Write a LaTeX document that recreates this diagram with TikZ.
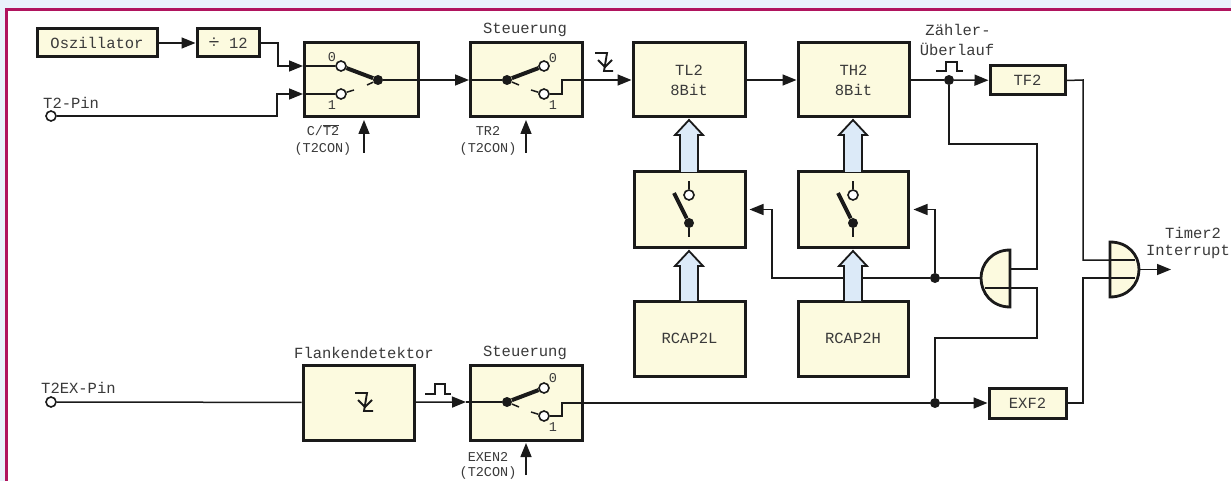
\documentclass[tikz,border=0pt]{standalone}
\usepackage{fontspec}
\setmainfont{Liberation Mono}
\usetikzlibrary{arrows.meta}
\definecolor{cream}{HTML}{FCFADF}
\definecolor{pale}{HTML}{DCEAF8}
\definecolor{page}{HTML}{E9F2FB}
\definecolor{rim}{HTML}{B0145E}
\definecolor{ink}{HTML}{1A1A1A}
\definecolor{txt}{HTML}{3A3A3A}
\newcommand{\blockup}[3]{% x, tip y, base y
  \draw[blockarrow] (#1-9,#3) -- (#1-9,#2+15) -- (#1-14,#2+15) -- (#1,#2) -- (#1+14,#2+15) -- (#1+9,#2+15) -- (#1+9,#3);
}
\tikzset{
  x=1pt,y=-1pt,
  blk/.style={draw=ink,fill=cream,line width=3pt,inner sep=0pt,font=\fontsize{15.5}{20}\selectfont,text=txt,align=center},
  lbl/.style={inner sep=0pt,font=\fontsize{15.5}{19}\selectfont,text=txt,align=center},
  small/.style={inner sep=0pt,font=\fontsize{13.5}{15}\selectfont,text=txt},
  wire/.style={draw=ink,line width=1.5pt},
  flow/.style={wire,-{Triangle[length=14pt,width=11pt]}},
  lever/.style={draw=ink,line width=4pt},
  contact/.style={circle,draw=ink,fill=white,line width=1.6pt,minimum size=10pt,inner sep=0pt},
  pole/.style={circle,fill=ink,minimum size=10pt,inner sep=0pt},
  gate/.style={draw=ink,fill=cream,line width=2.8pt},
  blockarrow/.style={draw=ink,fill=pale,line width=1.8pt},
  edge mark/.style={draw=ink,line width=1.9pt},
}
\begin{document}
\begin{tikzpicture}
\useasboundingbox (0,0) rectangle (1231,481);
\fill[page] (0,0) rectangle (1231,481);
\fill[white] (6,10) rectangle (1231,481);
\draw[rim,line width=3pt] (6,481) -- (6,10) -- (1231,10);

% blocks
\node[blk,minimum width=120pt,minimum height=28pt] (osc) at (97,43) {Oszillator};
\node[blk,minimum width=62pt,minimum height=28pt] (div) at (228,43) {{\fontsize{19}{19}\selectfont ÷} 12};
\node[blk,minimum width=114pt,minimum height=74pt] (sw1) at (361,80) {};
\node[blk,minimum width=112pt,minimum height=74pt] (sw2) at (526,80) {};
\node[blk,minimum width=112pt,minimum height=74pt] (tl) at (689,80) {TL2\\8Bit};
\node[blk,minimum width=111pt,minimum height=74pt] (th) at (853.5,80) {TH2\\8Bit};
\node[blk,minimum width=75pt,minimum height=29pt] (tf) at (1027.5,80.5) {TF2};
\node[blk,minimum width=111pt,minimum height=75pt] (ml) at (689.5,209.5) {};
\node[blk,minimum width=110pt,minimum height=75pt] (mh) at (853,209.5) {};
\node[blk,minimum width=111pt,minimum height=75pt] (rl) at (689.5,338.5) {RCAP2L};
\node[blk,minimum width=110pt,minimum height=75pt] (rh) at (853,338.5) {RCAP2H};
\node[blk,minimum width=111pt,minimum height=75pt] (fd) at (358.5,402.5) {};
\node[blk,minimum width=112pt,minimum height=75pt] (sw3) at (526,402.5) {};
\node[blk,minimum width=77pt,minimum height=30pt] (ex) at (1027.5,403) {EXF2};

% labels
\node[lbl,anchor=west] (l1) at (43,103) {T2-Pin};
\node[lbl,anchor=west] (l2) at (41,388) {T2EX-Pin};
\node[lbl] (l3) at (525,30) {Steuerung};
\node[lbl] (l4) at (525,353) {Steuerung};
\node[lbl] (l5) at (364,353) {Flankendetektor};
\node[lbl] (l6) at (958,30) {Zähler-};
\node[lbl] (l7) at (957,49) {Überlauf};
\node[lbl,anchor=west] (l8) at (1165,233) {Timer2};
\node[lbl,anchor=east] (l9) at (1230,252) {Interrupt};
\node[small] (l10) at (323,130) {C/$\overline{\mbox{T2}}$};
\node[small] (l11) at (323,149) {(T2CON)};
\node[small] (l12) at (488,131) {TR2};
\node[small] (l13) at (488,149) {(T2CON)};
\node[small] (l14) at (488,457) {EXEN2};
\node[small] (l15) at (488,473) {(T2CON)};
\node[small] (n1) at (332,57) {0};
\node[small] (n2) at (332,105) {1};
\node[small] (n3) at (553,58) {0};
\node[small] (n4) at (553,105) {1};
\node[small] (n5) at (553,378) {0};
\node[small] (n6) at (553,427) {1};

% pins, contacts, poles
\node[contact] (t2) at (51,116) {};
\node[contact] (t2ex) at (51,402) {};
\node[contact] (a0) at (341,66) {};
\node[contact] (a1) at (341,94) {};
\node[pole] (ap) at (378,80) {};
\node[contact] (b0) at (544,66) {};
\node[contact] (b1) at (544,94) {};
\node[pole] (bp) at (507,80) {};
\node[contact] (c0) at (544,388) {};
\node[contact] (c1) at (544,416) {};
\node[pole] (cp) at (507,402) {};
\node[contact] (d0) at (689,195) {};
\node[pole] (dp) at (689,223) {};
\node[contact] (e0) at (853,195) {};
\node[pole] (ep) at (853,223) {};

% junctions
\node[pole] (j1) at (949,80) {};
\node[pole] (j2) at (935,278) {};
\node[pole] (j3) at (935,403) {};

% gates
\coordinate (g1a) at (1010,269); \coordinate (g1b) at (1010,288); \coordinate (g1o) at (981,278);
\coordinate (g2a) at (1110,260); \coordinate (g2b) at (1110,278); \coordinate (g2o) at (1139,269.5);
\draw[gate] (1010,250) .. controls (992,250) and (981,264) .. (g1o) .. controls (981,293) and (992,307) .. (1010,307) -- cycle;
\draw[gate] (1110,242) .. controls (1128,242) and (1139,255) .. (g2o) .. controls (1139,284) and (1128,297) .. (1110,297) -- cycle;
\draw[wire] (985,288) -- (g1b);
\draw[wire] (g2a) -- (1135,260);
\draw[wire] (g2b) -- (1135,278);

% levers
\draw[lever] (a0) -- (ap);
\draw[lever] (b0) -- (bp);
\draw[lever] (c0) -- (cp);
\draw[lever] (674,193) -- (dp);
\draw[lever] (838,193) -- (ep);
\coordinate (d1) at (689,181); \coordinate (d2) at (689,237);
\coordinate (e1) at (853,181); \coordinate (e2) at (853,237);
\draw[wire] (d0) -- (d1); \draw[wire] (dp) -- (d2);
\draw[wire] (e0) -- (e1); \draw[wire] (ep) -- (e2);
% contact stubs
\draw[wire] (a1) -- (354,90);
\draw[wire] (ap) -- (367,85);
\draw[wire] (b1) -- (531,90);
\draw[wire] (bp) -- (519,85);
\draw[wire] (c1) -- (531,412);
\draw[wire] (cp) -- (519,407);

% connectors
\draw[flow] (osc) -- (div);
\coordinate (a0in) at (303,66); \coordinate (a1in) at (303,94);
\draw[flow] (div.east) -- (278,43) -- (278,66) -- (a0in);
\draw[wire] (a0in) -- (a0);
\draw[flow] (t2) -- (277,116) -- (277,94) -- (a1in);
\draw[wire] (a1in) -- (a1);
\coordinate (b0in) at (469,80);
\draw[flow] (ap) -- (b0in);
\draw[wire] (b0in) -- (bp);
\draw[flow] (b1) -- (562,94) -- (562,80) -- (tl.west);
\draw[flow] (tl) -- (th);
\draw[wire] (th) -- (j1);
\draw[flow] (j1) -- (tf);
\draw[wire] (tf.east) -- (1083,80) -- (1083,260) -- (g2a);
\draw[wire] (ex.east) -- (1083,403) -- (1083,278) -- (g2b);
\coordinate (tout) at (1171,269.5);
\draw[flow] (g2o) -- (tout);
\draw[wire] (j1) -- (949,144) -- (1037,144) -- (1037,269) -- (g1a);
\draw[wire] (j3) -- (935,338) -- (1037,338) -- (1037,288) -- (g1b);
\draw[wire] (g1o) -- (j2);
\draw[flow,shorten >=4pt] (j2) |- (mh.east);
\draw[wire] (j2) -- (772,278) -- (772,209.5);
\draw[flow,shorten >=3pt] (772,209.5) -- (ml.east);
\draw[wire] (t2ex) -- (fd);
\coordinate (c0in) at (466,402);
\draw[flow] (fd) -- (c0in);
\draw[wire] (c0in) -- (cp);
\draw[wire] (c1) -- (562,416) -- (562,403) -- (j3);
\draw[flow] (j3) -- (ex);

% block arrows
\blockup{689}{120}{172}
\blockup{853}{120}{172}
\blockup{689}{251}{301}
\blockup{853}{251}{301}

% control arrows
\coordinate (u1) at (364,153); \coordinate (v1) at (364,120);
\coordinate (u2) at (526,153); \coordinate (v2) at (526,120);
\coordinate (u3) at (526,475); \coordinate (v3) at (526,443);
\draw[flow] (u1) -- (v1);
\draw[flow] (u2) -- (v2);
\draw[flow] (u3) -- (v3);

% edge and pulse symbols
\draw[edge mark] (595,53) -- (607,53) -- (604,71) -- (613,71);
\draw[edge mark] (598,60) -- (605,67) -- (612,60);
\draw[edge mark] (355,393) -- (367,393) -- (364,411) -- (373,411);
\draw[edge mark] (358,400) -- (365,407) -- (372,400);
\draw[wire] (936,71) -- (946,71) -- (946,62) -- (957,62) -- (957,71) -- (963,71);
\draw[wire] (425,394) -- (435,394) -- (435,384) -- (445,384) -- (445,394) -- (451,394);
\end{tikzpicture}
\end{document}
